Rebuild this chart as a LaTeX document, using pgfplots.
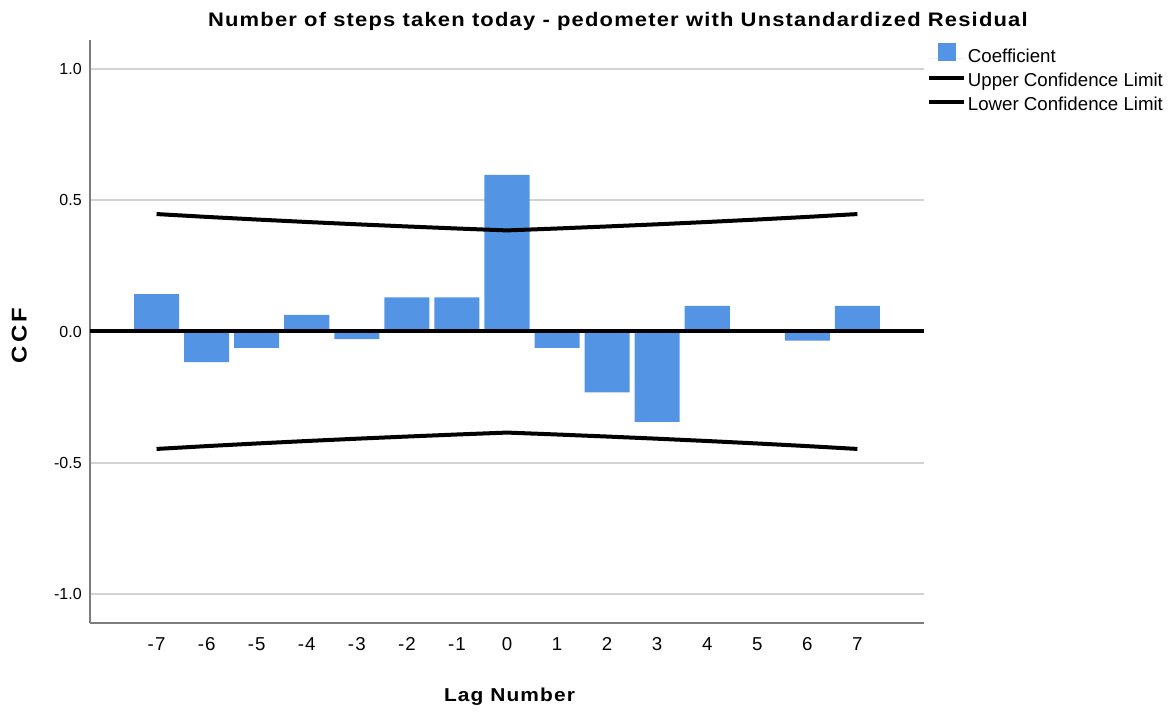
\documentclass[border=0pt]{standalone}
\usepackage{fontspec}
\setmainfont{Liberation Sans}
\newfontfamily\spacedfont[FakeStretch=1.12, LetterSpace=6]{Liberation Sans}
\newfontfamily\widefont[FakeStretch=1.12, LetterSpace=15]{Liberation Sans}
\newfontfamily\tickfont[LetterSpace=6]{Liberation Sans}
\usepackage{pgfplots}
\usepackage{pgfplotstable}
\pgfplotsset{compat=1.18}
\definecolor{barblue}{RGB}{83,149,228}
\definecolor{axisgray}{RGB}{125,125,125}
\definecolor{gridgray}{RGB}{210,210,210}

\pgfplotstableread{
lag ccf
-7 0.142
-6 -0.117
-5 -0.062
-4 0.063
-3 -0.029
-2 0.130
-1 0.130
0 0.596
1 -0.062
2 -0.232
3 -0.344
4 0.098
5 0.000
6 -0.035
7 0.098
}\ccftable

\pgfplotstableread{
lag upper lower
-7 0.4472 -0.4472
-6 0.4364 -0.4364
-5 0.4264 -0.4264
-4 0.4170 -0.4170
-3 0.4082 -0.4082
-2 0.4000 -0.4000
-1 0.3922 -0.3922
0 0.3849 -0.3849
1 0.3922 -0.3922
2 0.4000 -0.4000
3 0.4082 -0.4082
4 0.4170 -0.4170
5 0.4264 -0.4264
6 0.4364 -0.4364
7 0.4472 -0.4472
}\cltable

\begin{document}
\begin{tikzpicture}
\path[use as bounding box] (-67.5pt,-66pt) rectangle (813.75pt,467.25pt);
\begin{axis}[
  at={(0,0)}, anchor=south west,
  scale only axis, width=625.5pt, height=437.25pt,
  xmin=-8.33, xmax=8.33, ymin=-1.11, ymax=1.11,
  axis x line*=bottom, axis y line*=left,
  axis line style={axisgray, line width=1.5pt, -},
  xtick={-7,-6,-5,-4,-3,-2,-1,0,1,2,3,4,5,6,7},
  ytick={-1,-0.5,0,0.5,1},
  major tick length=0pt,
  ymajorgrids, grid style={gridgray, line width=1.5pt},
  /pgf/number format/assume math mode=true,
  yticklabel style={font=\fontsize{12}{14}\selectfont, anchor=east, inner sep=0pt, xshift=-6pt,
    /pgf/number format/fixed, /pgf/number format/fixed zerofill, /pgf/number format/precision=1},
  xticklabel style={font={\tickfont\fontsize{14}{16}\selectfont}, anchor=north, inner sep=0pt, yshift=-10.5pt},
  title={Number of steps taken today - pedometer with Unstandardized Residual},
  title style={at={(0.633,1.0218)}, anchor=base, yshift=-5.25pt, inner sep=0pt, font={\spacedfont\bfseries\fontsize{14.7}{17}\selectfont}},
  xlabel={Lag Number},
  xlabel style={at={(0.503,-0.1355)}, anchor=base, inner sep=0pt, font={\spacedfont\bfseries\fontsize{14}{17}\selectfont}},
  ylabel={CCF},
  ylabel style={at={(-0.0759,0.4931)}, anchor=base, rotate=0, inner sep=0pt, font={\widefont\bfseries\fontsize{16}{19}\selectfont}},
  legend cell align=left,
  legend style={at={(1.0036,0.995)}, anchor=north west, draw=none, fill=none, inner sep=0pt,
    font=\fontsize{14}{16}\selectfont, row sep=4.85pt,
    nodes={inner ysep=0pt, inner xsep=1.5pt, text height=10pt, text depth=3pt}},
]
\addplot[ybar, bar width=0.9, fill=barblue, draw=none,
  legend image code/.code={\fill[barblue] (6.4pt,-2.25pt) rectangle (19.9pt,11.25pt); \path (0pt,0pt) -- (26pt,0pt);}]
  table[x=lag, y=ccf] {\ccftable};
\addlegendentry{Coefficient}
\addplot[black, line width=3pt, forget plot] coordinates {(-8.33,0) (8.33,0)};
\addplot[black, line width=3pt, line join=round,
  legend image code/.code={\draw[black, line width=3pt] (0pt,3pt) -- (26pt,3pt);}]
  table[x=lag, y=upper] {\cltable};
\addlegendentry{Upper Confidence Limit}
\addplot[black, line width=3pt, line join=round,
  legend image code/.code={\draw[black, line width=3pt] (0pt,3pt) -- (26pt,3pt);}]
  table[x=lag, y=lower] {\cltable};
\addlegendentry{Lower Confidence Limit}
\end{axis}
\end{tikzpicture}
\end{document}
